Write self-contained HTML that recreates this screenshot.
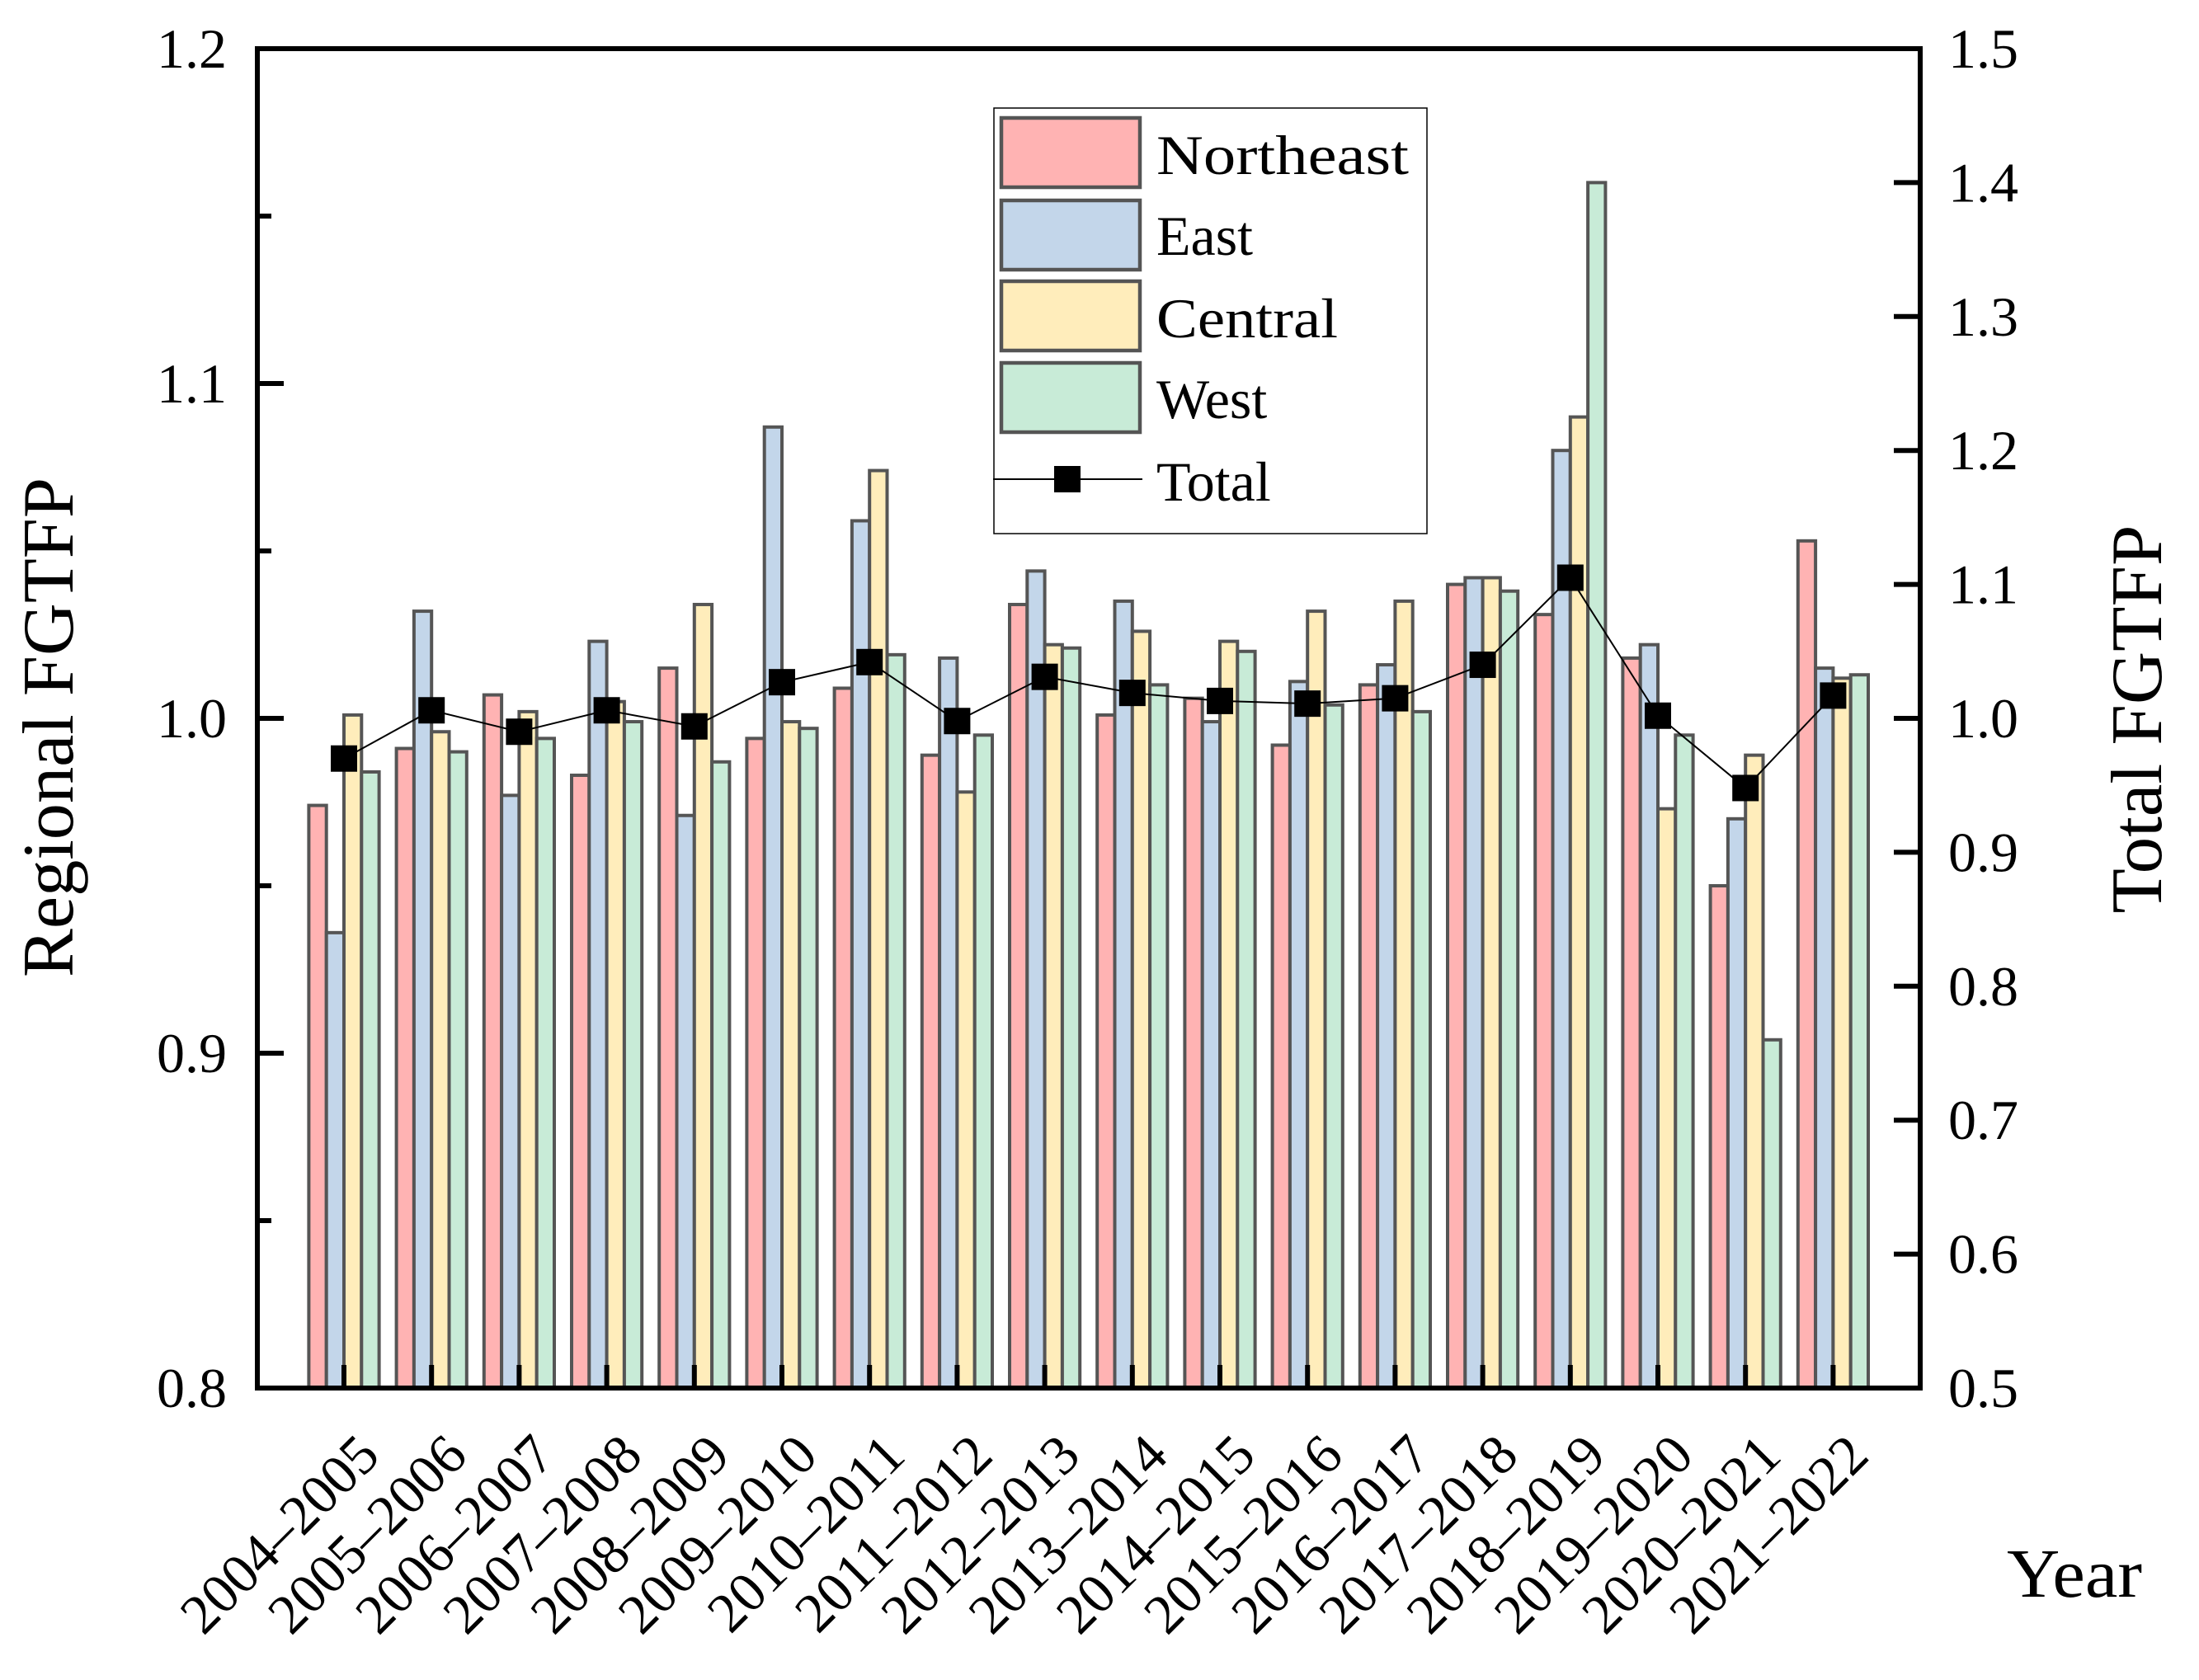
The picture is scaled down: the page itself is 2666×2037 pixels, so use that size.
<!DOCTYPE html>
<html><head><meta charset="utf-8"><style>
html,body{margin:0;padding:0;background:#fff;}
svg{display:block;font-family:"Liberation Serif",serif;}
</style></head><body>
<svg id="chart" width="2666" height="2037" viewBox="0 0 2666 2037" xmlns="http://www.w3.org/2000/svg">
<g id="bars"></g>
<g id="line"></g>
<g id="axes"></g>
<text x="88" y="882" font-size="88" text-anchor="middle" transform="rotate(-90 88 882)" textLength="606" lengthAdjust="spacingAndGlyphs">Regional FGTFP</text>
<text x="2620" y="872" font-size="88" text-anchor="middle" transform="rotate(-90 2620 872)" textLength="471" lengthAdjust="spacingAndGlyphs">Total FGTFP</text>
<text x="2433" y="1936" font-size="84" textLength="164" lengthAdjust="spacingAndGlyphs">Year</text>
<g>
<rect x="1205" y="131" width="525" height="516" fill="#fff" stroke="#000" stroke-width="1.5"/>
<rect x="1214" y="143" width="168" height="84" fill="#FFB3B3" stroke="#555" stroke-width="4.5"/>
<text x="1402" y="211" font-size="68" textLength="306" lengthAdjust="spacingAndGlyphs">Northeast</text>
<rect x="1214" y="243" width="168" height="84" fill="#C3D6EA" stroke="#555" stroke-width="4.5"/>
<text x="1402" y="309" font-size="68">East</text>
<rect x="1214" y="341" width="168" height="84" fill="#FFEDBB" stroke="#555" stroke-width="4.5"/>
<text x="1402" y="409" font-size="68" textLength="220" lengthAdjust="spacingAndGlyphs">Central</text>
<rect x="1214" y="440" width="168" height="84" fill="#C8EBD7" stroke="#555" stroke-width="4.5"/>
<text x="1402" y="507" font-size="68">West</text>
<line x1="1204" y1="581" x2="1385" y2="581" stroke="#000" stroke-width="2"/>
<rect x="1278" y="565" width="32" height="32" fill="#000"/>
<text x="1402" y="607" font-size="68">Total</text>
</g>
</svg>
<script>
const categories = ["2004–2005","2005–2006","2006–2007","2007–2008","2008–2009","2009–2010","2010–2011","2011–2012","2012–2013","2013–2014","2014–2015","2015–2016","2016–2017","2017–2018","2018–2019","2019–2020","2020–2021","2021–2022"];
const northeast = [0.974,0.991,1.007,0.983,1.015,0.994,1.009,0.989,1.034,1.001,1.006,0.992,1.010,1.040,1.031,1.018,0.950,1.053];
const east      = [0.936,1.032,0.977,1.023,0.971,1.087,1.059,1.018,1.044,1.035,0.999,1.011,1.016,1.042,1.080,1.022,0.970,1.015];
const central   = [1.001,0.996,1.002,1.005,1.034,0.999,1.074,0.978,1.022,1.026,1.023,1.032,1.035,1.042,1.090,0.973,0.989,1.012];
const west      = [0.984,0.990,0.994,0.999,0.987,0.997,1.019,0.995,1.021,1.010,1.020,1.004,1.002,1.038,1.160,0.995,0.904,1.013];
const total     = [0.970,1.006,0.990,1.006,0.994,1.027,1.042,0.998,1.031,1.019,1.013,1.011,1.015,1.040,1.105,1.002,0.948,1.017];
const leftTicks = ["0.8","0.9","1.0","1.1","1.2"];
const rightTicks = ["0.5","0.6","0.7","0.8","0.9","1.0","1.1","1.2","1.3","1.4","1.5"];

const NS="http://www.w3.org/2000/svg";
const L=312,R=2328,T=59,B=1683;
const yL=v=>B-(v-0.8)/0.4*(B-T);
const yR=v=>B-(v-0.5)/1.0*(B-T);
const step=106.2, x0=417;
const xC=i=>x0+i*step;
const bw=21.3;
function mk(tag,attrs,parent){const e=document.createElementNS(NS,tag);for(const k in attrs)e.setAttribute(k,attrs[k]);parent.appendChild(e);return e;}
const bars=document.getElementById('bars');
const series=[[northeast,'#FFB3B3','northeast'],[east,'#C3D6EA','east'],[central,'#FFEDBB','central'],[west,'#C8EBD7','west']];
series.forEach((s,si)=>{
  s[0].forEach((v,i)=>{
    const x=xC(i)-2*bw+si*bw, y=yL(v);
    const r=mk('rect',{x:x,y:y,width:bw,height:B-y,fill:s[1],stroke:'#555','stroke-width':4},bars);
    
    
  });
});
const lg=document.getElementById('line');
const pl=mk('polyline',{points:total.map((v,i)=>xC(i)+','+yR(v)).join(' '),fill:'none',stroke:'#000','stroke-width':2},lg);


total.forEach((v,i)=>{
  const m=mk('rect',{x:xC(i)-16,y:yR(v)-16,width:32,height:32,fill:'#000'},lg);
  
  
});
const ax=document.getElementById('axes');
const frame=mk('rect',{x:L,y:T,width:R-L,height:B-T,fill:'none',stroke:'#000','stroke-width':6},ax);


leftTicks.forEach((t,i)=>{
  const v=parseFloat(t), y=yL(v);
  mk('line',{x1:L,y1:y,x2:L+32,y2:y,stroke:'#000','stroke-width':6},ax);
  if(i<leftTicks.length-1){const ym=yL(v+0.05);mk('line',{x1:L,y1:ym,x2:L+17,y2:ym,stroke:'#000','stroke-width':6},ax);}
  const tx=mk('text',{x:275,y:y+23,'font-size':68,'text-anchor':'end'},ax);
  tx.textContent=t;
  
  
});
rightTicks.forEach((t)=>{
  const y=yR(parseFloat(t));
  mk('line',{x1:R-32,y1:y,x2:R,y2:y,stroke:'#000','stroke-width':6},ax);
  const tx=mk('text',{x:2362,y:y+23,'font-size':68},ax);
  tx.textContent=t;
  
  
});
categories.forEach((c,i)=>{
  const x=xC(i);
  mk('line',{x1:x,y1:B,x2:x,y2:B-28,stroke:'#000','stroke-width':6},ax);
  const ttx=x+46, tty=1768;
  const tx=mk('text',{x:ttx,y:tty,'font-size':68,'text-anchor':'end',transform:'rotate(-45 '+ttx+' '+tty+')'},ax);
  tx.textContent=c;
  
  
});
</script>
</body></html>
